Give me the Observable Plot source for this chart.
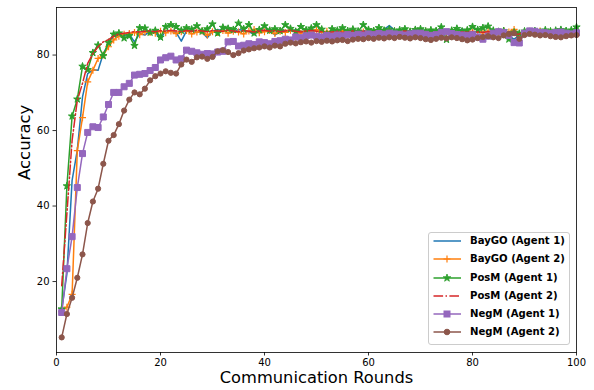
<!DOCTYPE html>
<html>
<head>
<meta charset="utf-8">
<script src="https://cdn.jsdelivr.net/npm/d3@7"></script>
<script src="https://cdn.jsdelivr.net/npm/@observablehq/plot@0.6"></script>
<style>
  html, body { margin: 0; padding: 0; background: #fff; }
  #wrap { position: relative; width: 594px; height: 390px; font-family: "DejaVu Sans", sans-serif; }
  .legend { position: absolute; left: 428px; top: 232px; width: 142px; height: 113px; border: 1px solid #cccccc; border-radius: 3px; background: rgba(255,255,255,0.8); box-sizing: border-box; }
  .row { position: absolute; left: 0; height: 18px; width: 140px; }
  .row svg { position: absolute; left: 4px; top: 0; }
  .row span { position: absolute; left: 41px; top: 2px; font-weight: bold; font-size: 10.1px; line-height: 14px; white-space: nowrap; color: #000; }
</style>
</head>
<body>
<div id="wrap"></div>
<script>
const rounds = d3.range(1, 101);

const baygo1 = [12.5,22.0,46.8,54.8,68.9,75.1,76.1,76.0,80.4,83.0,85.0,85.6,85.2,85.5,83.5,85.7,85.3,86.4,86.0,84.3,
86.5,86.3,86.0,83.7,86.4,86.6,86.2,86.0,84.6,86.3,86.8,86.4,86.6,86.0,86.8,86.5,86.2,85.4,86.7,86.5,
86.8,85.3,86.4,86.6,86.3,86.7,86.4,86.2,86.5,86.8,86.3,86.0,86.4,86.6,86.2,86.5,86.3,86.1,86.4,86.6,
86.3,86.5,86.8,87.8,86.6,86.2,86.4,86.0,86.8,86.1,86.7,86.0,86.2,86.5,86.1,86.3,86.4,86.9,86.2,86.0,
86.3,86.1,86.4,86.2,86.0,85.8,85.0,84.2,85.2,85.8,86.0,86.2,86.1,86.3,86.0,85.9,86.4,86.2,86.1,86.3];

const baygo2 = [12.0,13.2,16.6,54.7,63.4,72.9,76.0,79.1,80.0,82.2,84.0,85.0,85.5,85.7,86.0,85.4,86.2,86.0,85.8,86.3,
85.9,86.4,85.7,86.2,86.5,85.6,86.1,86.4,85.3,86.2,86.0,86.5,85.8,86.3,86.1,85.6,86.4,86.8,85.9,86.2,
86.5,85.7,86.3,86.0,86.6,86.2,85.8,86.4,86.1,86.7,86.0,86.3,85.9,86.2,86.5,86.0,86.3,85.8,86.1,86.4,
86.2,85.9,86.3,86.0,86.4,86.1,85.8,86.2,86.5,86.0,86.3,85.9,86.2,86.4,86.0,86.3,85.8,86.1,86.4,86.0,
86.2,85.9,86.3,86.0,86.2,86.5,86.1,86.8,85.6,86.0,86.3,86.1,86.4,86.0,86.2,85.9,86.3,86.1,86.0,86.2];

const posm1 = [12.7,45.3,63.8,68.3,77.0,76.1,80.6,82.6,79.8,83.3,85.5,85.8,84.5,85.1,82.5,87.2,87.1,86.0,86.5,84.7,
87.5,88.0,87.5,86.5,87.2,86.8,87.7,86.3,86.9,88.2,85.8,87.3,87.0,86.7,88.4,86.9,88.0,85.8,86.7,87.7,
86.5,86.9,86.4,88.0,87.0,86.2,87.5,86.6,87.1,88.0,86.8,85.5,86.9,86.5,87.2,86.4,86.8,86.3,88.0,86.7,
86.4,87.2,86.5,86.8,86.3,86.6,86.9,86.2,86.7,86.9,86.3,86.6,86.4,87.4,84.1,86.5,87.0,86.3,86.6,87.5,
86.7,87.2,87.6,86.5,86.2,86.4,84.2,86.0,85.7,86.3,86.1,86.4,86.0,86.6,86.3,86.5,86.7,86.4,86.6,87.4];

const posm2 = [18.9,38.0,57.4,68.0,72.5,77.8,80.4,82.2,83.5,84.1,85.0,85.6,85.8,86.0,86.2,86.1,86.3,86.4,86.2,86.5,
86.3,86.6,86.4,86.2,86.5,86.3,86.6,86.4,86.2,86.5,86.4,86.3,86.6,86.4,86.2,86.5,86.3,86.1,86.4,86.6,
86.3,86.5,86.2,86.4,86.6,86.3,86.1,86.4,86.5,86.3,86.2,85.9,86.1,86.3,86.0,86.2,86.4,86.1,86.3,86.0,
86.2,86.4,86.1,86.3,86.0,86.2,86.4,86.1,86.0,86.3,86.1,85.9,86.2,86.0,86.3,86.1,85.9,86.2,86.0,86.3,
86.1,86.0,86.2,86.0,86.1,86.3,85.9,85.4,85.6,86.0,86.2,86.0,86.1,86.3,86.0,86.2,86.1,85.9,86.1,86.2];

const negm1 = [11.8,23.4,31.9,44.9,53.9,59.5,61.0,60.8,63.6,66.9,70.1,70.1,71.6,72.5,74.7,74.9,75.1,75.9,76.7,78.7,
79.3,79.7,78.7,79.0,81.3,81.0,80.6,80.2,80.4,80.3,80.8,81.0,83.5,83.6,82.4,82.6,83.0,82.8,83.5,83.3,
83.0,83.6,83.8,84.2,84.0,84.8,84.6,85.1,85.3,85.0,84.8,85.2,85.0,85.3,85.1,85.4,85.2,85.5,85.3,85.6,
85.4,85.7,85.5,85.8,85.6,85.5,85.3,85.6,85.8,85.8,85.5,85.2,85.4,86.0,86.2,85.7,85.4,85.3,85.2,85.4,
84.8,84.2,85.0,85.8,86.2,86.0,85.2,83.3,83.2,85.8,86.4,86.3,86.0,85.9,85.7,86.0,86.1,85.8,85.6,85.9];

const negm2 = [5.2,11.4,15.7,21.0,27.2,35.5,41.2,44.6,51.2,57.3,58.8,61.7,65.3,68.2,70.1,69.6,71.1,73.3,74.4,75.1,
75.7,75.3,75.1,77.5,78.8,78.2,79.4,79.6,79.0,79.5,81.0,81.3,80.8,80.0,80.5,81.2,81.5,81.8,82.0,82.3,
82.0,82.5,82.3,83.0,83.3,83.1,83.4,83.6,83.3,83.7,83.5,83.8,83.6,83.9,84.0,83.7,84.1,84.3,84.2,84.5,
84.3,84.6,84.4,84.7,84.5,84.8,84.6,84.4,84.7,84.5,84.2,84.0,84.3,84.6,84.4,84.7,84.5,84.2,83.9,84.1,
84.5,84.8,85.0,84.7,84.5,85.2,85.6,85.8,84.3,85.3,85.6,85.4,85.2,85.3,85.0,84.8,84.7,85.0,85.2,85.3];

const seriesNames = ["BayGO (Agent 1)", "BayGO (Agent 2)", "PosM (Agent 1)", "PosM (Agent 2)", "NegM (Agent 1)", "NegM (Agent 2)"];
const seriesValues = [baygo1, baygo2, posm1, posm2, negm1, negm2];
const seriesColors = ["#1f77b4", "#ff7f0e", "#2ca02c", "#d62728", "#9467bd", "#8c564b"];
const seriesSymbols = [null, "plus", "star", null, "square", "circle"];
const xTicks = [0, 20, 40, 60, 80, 100];
const yTicks = [20, 40, 60, 80];
const xLabel = "Communication Rounds";
const yLabel = "Accuracy";

const dash = "9.6,2.4,1.5,2.4";
const markerStyle = {
  plus: c => ({r: 2.4, fill: "none", stroke: c, strokeWidth: 1.2}),
  star: c => ({r: 2.3, fill: c, stroke: c, strokeWidth: 1}),
  square: c => ({r: 3.4, fill: c, stroke: c, strokeWidth: 1}),
  circle: c => ({r: 2.6, fill: c, stroke: c, strokeWidth: 1})
};

const marks = [];
seriesNames.forEach((name, i) => {
  const rows = rounds.map((r, j) => ({round: r, acc: seriesValues[i][j]}));
  marks.push(Plot.line(rows, {
    x: "round", y: "acc", stroke: seriesColors[i], strokeWidth: 1.5,
    strokeDasharray: i === 3 ? dash : null, strokeLinejoin: "round"
  }));
  const sym = seriesSymbols[i];
  if (sym) {
    marks.push(Plot.dot(rows, {x: "round", y: "acc", symbol: sym, ...markerStyle[sym](seriesColors[i])}));
  }
});

const chart = Plot.plot({
  width: 594, height: 390,
  marginLeft: 56, marginRight: 18, marginTop: 7, marginBottom: 38,
  x: {domain: [0, 100]},
  y: {domain: [1.2, 92.6]},
  style: {fontFamily: "DejaVu Sans", fontSize: "10px", background: "white", color: "black"},
  marks: [
    ...marks,
    Plot.frame({stroke: "black", strokeWidth: 0.8}),
    Plot.axisX({ticks: xTicks, tickSize: 3.5, tickPadding: 3, label: null, strokeWidth: 0.8, fontSize: 10}),
    Plot.axisY({ticks: yTicks, tickSize: 3.5, tickPadding: 3.5, label: null, strokeWidth: 0.8, fontSize: 10}),
    Plot.text([xLabel], {text: d => d, frameAnchor: "bottom", dy: 30, fontSize: 16.3}),
    Plot.text([yLabel], {text: d => d, frameAnchor: "left", dx: -32, rotate: -90, fontSize: 16.5})
  ]
});

const wrap = document.getElementById("wrap");
wrap.appendChild(chart);

// Legend
const legend = document.createElement("div");
legend.className = "legend";
const rowCenters = [240.7, 259.3, 277.7, 296, 314.3, 332.3];
seriesNames.forEach((name, i) => {
  const row = document.createElement("div");
  row.className = "row";
  row.style.top = (rowCenters[i] - 233 - 9) + "px";
  const c = seriesColors[i];
  let marker = "";
  const sym = seriesSymbols[i];
  if (sym === "plus") marker = `<path d="M10.5,9h7M14,5.5v7" stroke="${c}" stroke-width="1.2"/>`;
  if (sym === "star") {
    const pts = d3.range(10).map(k => {
      const a = -Math.PI / 2 + k * Math.PI / 5;
      const rr = k % 2 ? 1.6 : 4;
      return [14 + rr * Math.cos(a), 9 + rr * Math.sin(a)].join(",");
    }).join(" ");
    marker = `<polygon points="${pts}" fill="${c}" stroke="${c}" stroke-width="0.8"/>`;
  }
  if (sym === "square") marker = `<rect x="11" y="6" width="6" height="6" fill="${c}" stroke="${c}" stroke-width="1"/>`;
  if (sym === "circle") marker = `<circle cx="14" cy="9" r="2.8" fill="${c}" stroke="${c}" stroke-width="1"/>`;
  row.innerHTML = `<svg width="30" height="18"><line x1="0.5" x2="28" y1="9" y2="9" stroke="${c}" stroke-width="1.5" ${i === 3 ? `stroke-dasharray="${dash}"` : ""}/>${marker}</svg><span>${name}</span>`;
  legend.appendChild(row);
});
wrap.appendChild(legend);
</script>
</body>
</html>
